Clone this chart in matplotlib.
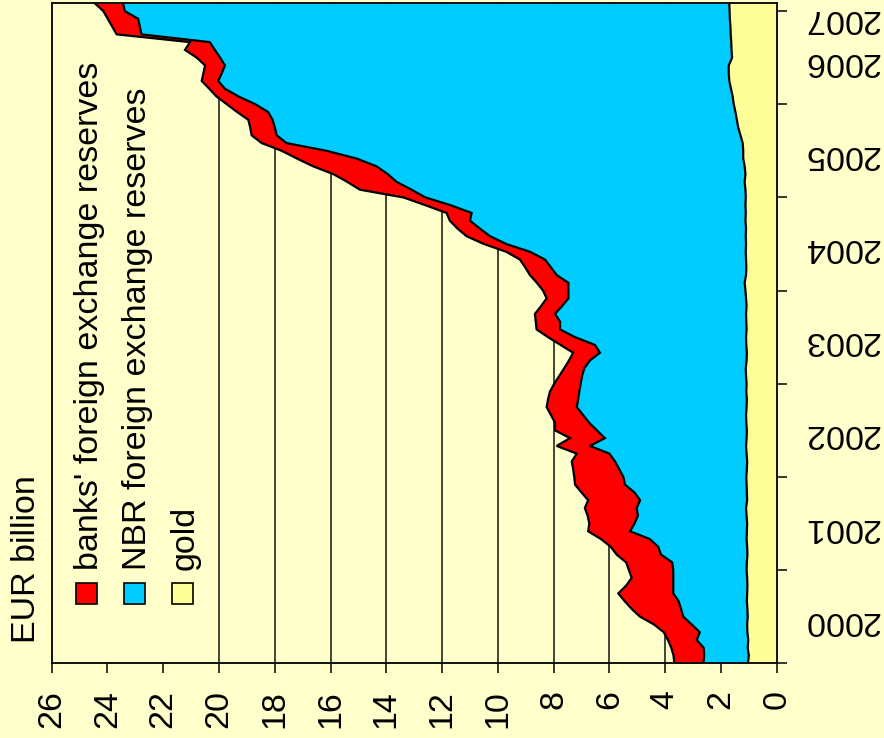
import numpy as np
import matplotlib
matplotlib.use("Agg")
import matplotlib.pyplot as plt
from matplotlib.patches import Rectangle

######## DATA (EUR billion, monthly, Jan 2000 - Feb 2007) ########

gold = [1.03, 1.00, 1.04, 1.02, 1.05, 1.06, 1.04, 1.05, 1.07, 1.06, 1.05, 1.06,
        1.08, 1.07, 1.05, 1.06, 1.08, 1.07, 1.06, 1.08, 1.10, 1.06, 1.07, 1.08,
        1.09, 1.07, 1.06, 1.08, 1.10, 1.08, 1.07, 1.09, 1.10, 1.08, 1.07, 1.09,
        1.08, 1.10, 1.11, 1.08, 1.07, 1.09, 1.10, 1.08, 1.09, 1.10, 1.08, 1.10,
        1.12, 1.15, 1.10, 1.09, 1.10, 1.11, 1.10, 1.11, 1.10, 1.12, 1.11, 1.12,
        1.11, 1.12, 1.15, 1.12, 1.15, 1.20, 1.20, 1.22, 1.30, 1.38, 1.43, 1.48,
        1.54, 1.58, 1.64, 1.70, 1.72, 1.72, 1.60, 1.62, 1.63, 1.65, 1.66, 1.68,
        1.69, 1.70]

nbr = [1.60, 1.60, 1.58, 1.85, 1.71, 1.99, 2.31, 2.38, 2.45, 2.65, 2.66, 2.65,
       2.63, 2.68, 3.10, 3.19, 3.47, 4.19, 4.04, 3.90, 3.92, 3.84, 4.03, 4.36,
       4.41, 4.58, 4.74, 4.92, 5.60, 5.08, 5.38, 5.64, 5.85, 6.09, 6.05, 5.99,
       5.95, 5.88, 5.79, 5.62, 5.27, 5.43, 6.13, 6.69, 6.68, 6.85, 6.62, 6.37,
       6.35, 6.32, 6.79, 7.01, 7.21, 7.74, 8.60, 9.17, 9.55, 9.88, 9.83, 10.58,
       11.49, 11.98, 12.48, 12.83, 13.20, 13.86, 14.94, 16.36, 16.63, 16.62, 16.65, 16.76,
       17.16, 17.72, 18.15, 18.33, 18.18, 18.07, 18.36, 18.53, 18.70, 21.13, 21.18, 21.22,
       21.69, 21.74]

banks = [1.04, 1.10, 1.16, 1.03, 1.29, 1.35, 1.55, 1.77, 1.93, 1.97, 1.69, 1.49,
         1.59, 1.65, 1.59, 1.70, 1.75, 1.50, 1.62, 1.80, 1.86, 1.86, 1.90, 1.79,
         1.76, 1.65, 1.55, 1.17, 1.19, 1.25, 1.50, 1.22, 1.15, 1.08, 1.08, 1.05,
         0.95, 0.82, 0.72, 0.75, 0.96, 1.23, 0.97, 0.84, 0.87, 0.72, 0.75, 0.78,
         0.91, 1.13, 0.96, 0.92, 0.90, 0.85, 0.80, 0.84, 0.80, 0.72, 0.90, 0.90,
         0.79, 1.85, 1.77, 1.95, 2.27, 2.14, 1.61, 0.89, 0.90, 0.88, 0.87, 1.11,
         1.02, 0.79, 0.56, 0.59, 0.66, 0.71, 0.84, 1.07, 0.71, 0.89, 0.99, 1.09,
         0.77, 1.01]

years = ["2000", "2001", "2002", "2003", "2004", "2005", "2006", "2007"]
value_ticks = list(range(0, 27, 2))
grid_values = list(range(2, 21, 2))

series_labels = ["banks' foreign exchange reserves",
                 "NBR foreign exchange reserves",
                 "gold"]

######## STYLE ########

W, H = 884, 738
BG = "#FFFFCC"
C_GOLD = "#FFFF99"
C_NBR = "#00CCFF"
C_BANKS = "#FF0000"
FONT = "Liberation Sans"
FS = 24.5

plt.rcParams["font.family"] = [FONT, "DejaVu Sans"]


def fx(x):
    return x / W


def fy(y):
    return 1 - y / H


######## PLOT ########

t = np.arange(len(gold))
lvl_gold = np.array(gold)
lvl_nbr = lvl_gold + np.array(nbr)
lvl_total = lvl_nbr + np.array(banks)

fig = plt.figure(figsize=(W / 100, H / 100), dpi=100, facecolor=BG)
ax = fig.add_axes([fx(51.7), fy(663.3), (776.7 - 51.7) / W, (663.3 - 3.3) / H])
ax.set_facecolor(BG)

for v in grid_values:
    ax.axvline(v, color="#111111", linewidth=1.1, zorder=1)

ax.fill_betweenx(t, 0, lvl_gold, color=C_GOLD, linewidth=0, zorder=2)
ax.fill_betweenx(t, lvl_gold, lvl_nbr, color=C_NBR, linewidth=0, zorder=2)
ax.fill_betweenx(t, lvl_nbr, lvl_total, color=C_BANKS, linewidth=0, zorder=2)
for lvl in (lvl_gold, lvl_nbr, lvl_total):
    ax.plot(lvl, t, color="black", linewidth=1.6, zorder=3, solid_joinstyle="miter")

ax.set_xlim(26, 0)
ax.set_ylim(0, len(gold) - 1)

# value axis (bottom)
ax.set_xticks(value_ticks)
ax.set_xticklabels([str(v) for v in value_ticks], rotation=90, fontsize=FS)
ax.tick_params(axis="x", direction="out", length=7.5, width=1.1, pad=12)

# time axis (right)
ax.yaxis.tick_right()
ax.set_yticks(range(0, len(gold), 12))
ax.set_yticklabels([])
ax.tick_params(axis="y", which="major", direction="out", length=7.5, width=1.1)
label_pos = [6 + 12 * i for i in range(len(years) - 1)] + [83.5]
ax.set_yticks(label_pos, minor=True)
ax.set_yticklabels(years, minor=True, rotation=180, fontsize=FS)
ax.tick_params(axis="y", which="minor", length=0, pad=19)

for sp in ax.spines.values():
    sp.set_linewidth(1.3)
    sp.set_zorder(4)

# legend (rotated like the chart)
fig.text(fx(35), fy(643), "EUR billion", rotation=90, rotation_mode="anchor",
         ha="left", va="baseline", fontsize=FS)

legend_colors = [C_BANKS, C_NBR, C_GOLD]
baselines = [98, 146, 194]
for lbl, col, bx in zip(series_labels, legend_colors, baselines):
    cx = bx - 11.5
    fig.add_artist(Rectangle((fx(cx - 10.5), fy(604)), 21 / W, 21 / H,
                             transform=fig.transFigure, facecolor=col,
                             edgecolor="black", linewidth=1.2))
    fig.text(fx(bx), fy(570), lbl, rotation=90, rotation_mode="anchor",
             ha="left", va="baseline", fontsize=FS)

fig.savefig("out.png", dpi=100, facecolor=BG)
